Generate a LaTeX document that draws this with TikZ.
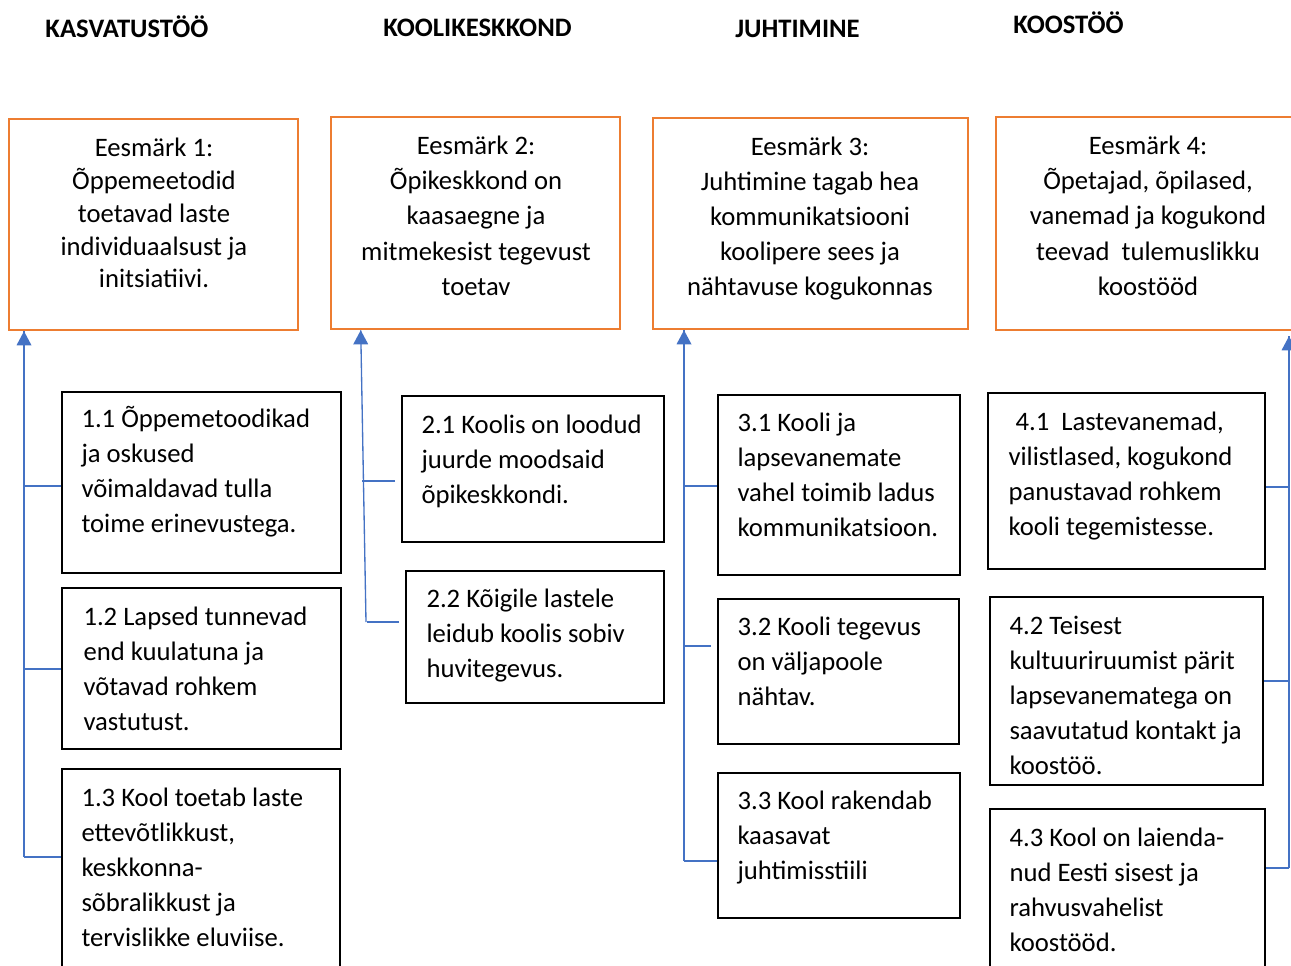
\documentclass[tikz,border=0pt]{standalone}
\usepackage{fontspec}
\setmainfont{Carlito}
\usetikzlibrary{calc}
\definecolor{goalorange}{RGB}{237,125,49}
\definecolor{linkblue}{RGB}{68,114,196}

\tikzset{every picture/.style={line width=0.75pt}}
\tikzset{
  boxsize/.style 2 args={minimum width=#1*0.75pt, minimum height=#2*0.75pt},
  goal/.style={draw=goalorange, line width=1.9pt, inner sep=0pt},
  item/.style={draw=black, line width=1.5pt, inner sep=0pt},
  head/.style={inner sep=0pt, font=\fontsize{20}{24}\selectfont\bfseries},
  goaltext/.style={anchor=north, align=center, inner sep=0pt, font=\fontsize{20}{26.25}\selectfont},
  itemtext/.style={anchor=north west, align=left, inner sep=0pt, font=\fontsize{20}{26.25}\selectfont},
  link/.style={draw=linkblue, line width=1pt},
  gap/.style={shorten <=4.5pt}
}

\begin{document}
\begin{tikzpicture}[x=0.75pt,y=0.75pt,yscale=-1,xscale=1]
    \useasboundingbox (0,0) rectangle (1291,966);
    \clip (0,0) rectangle (1291,966);

    % Text Node
    \draw (127,27) node [head] (h1) {KASVATUSTÖÖ};
    % Text Node
    \draw (477.5,27.5) node [head] (h2) {KOOLIKESKKOND};
    % Text Node
    \draw (797.5,28.5) node [head] (h3) {JUHTIMINE};
    % Text Node
    \draw (1068.5,23) node [head] (h4) {KOOSTÖÖ};

    %Shape: Rectangle
    \draw (153.5,224.5) node [goal, boxsize={289}{211}] (g1) {};
    %Shape: Rectangle
    \draw (475.5,223) node [goal, boxsize={289}{212}] (g2) {};
    %Shape: Rectangle
    \draw (810.5,223.5) node [goal, boxsize={315}{211}] (g3) {};
    %Shape: Rectangle
    \draw (1148,223.5) node [goal, boxsize={304}{213}] (g4) {};

    % Text Node
    \draw (154,133.4) node [goaltext, font=\fontsize{20}{24.56}\selectfont] (g1t) {\strut Eesmärk 1:\\Õppemeetodid\\toetavad laste\\individuaalsust ja\\initsiatiivi.};
    % Text Node
    \draw (476,130) node [goaltext] (g2t) {\strut Eesmärk 2:\\Õpikeskkond on\\kaasaegne ja\\mitmekesist tegevust\\toetav};
    % Text Node
    \draw (810,131) node [goaltext] (g3t) {\strut Eesmärk 3:\\Juhtimine tagab hea\\kommunikatsiooni\\koolipere sees ja\\nähtavuse kogukonnas};
    % Text Node
    \draw (1148,130) node [goaltext] (g4t) {\strut Eesmärk 4:\\Õpetajad, õpilased,\\vanemad ja kogukond\\teevad~ tulemuslikku\\koostööd};

    %Shape: Rectangle
    \draw (201.5,482.5) node [item, boxsize={279}{181}] (b11) {};
    \draw (201.5,668.5) node [item, boxsize={279}{161}] (b12) {};
    \draw (201,879.5) node [item, boxsize={278}{221}] (b13) {};
    %Shape: Rectangle
    \draw (533,469) node [item, boxsize={262}{146}] (b21) {};
    \draw (535,637) node [item, boxsize={258}{132}] (b22) {};
    %Shape: Rectangle
    \draw (839,485) node [item, boxsize={242}{180}] (b31) {};
    \draw (838.5,671.5) node [item, boxsize={241}{145}] (b32) {};
    \draw (839,845.5) node [item, boxsize={242}{145}] (b33) {};
    %Shape: Rectangle
    \draw (1126.5,481) node [item, boxsize={277}{176}] (b41) {};
    \draw (1126.5,691) node [item, boxsize={273}{188}] (b42) {};
    \draw (1127.5,899.5) node [item, boxsize={275}{181}] (b43) {};

    % Text Node
    \draw (81,402) node [itemtext] (t11) {\strut 1.1 Õppemetoodikad\\ja oskused\\võimaldavad tulla\\toime erinevustega.};
    \draw (83,600) node [itemtext] (t12) {\strut 1.2 Lapsed tunnevad\\end kuulatuna ja\\võtavad rohkem\\vastutust.};
    \draw (81,781) node [itemtext] (t13) {\strut 1.3 Kool toetab laste\\ettevõtlikkust,\\keskkonna-\\sõbralikkust ja\\tervislikke eluviise.};
    % Text Node
    \draw (421,408) node [itemtext] (t21) {\strut 2.1 Koolis on loodud\\juurde moodsaid\\õpikeskkondi.};
    \draw (426,582) node [itemtext] (t22) {\strut 2.2 Kõigile lastele\\leidub koolis sobiv\\huvitegevus.};
    % Text Node
    \draw (737,406) node [itemtext] (t31) {\strut 3.1 Kooli ja\\lapsevanemate\\vahel toimib ladus\\kommunikatsioon.};
    \draw (737,610) node [itemtext] (t32) {\strut 3.2 Kooli tegevus\\on väljapoole\\nähtav.};
    \draw (737,784) node [itemtext] (t33) {\strut 3.3 Kool rakendab\\kaasavat\\juhtimisstiili};
    % Text Node
    \draw (1008,405) node [itemtext] (t41) {\strut\hspace*{5.25pt}4.1~ Lastevanemad,\\vilistlased, kogukond\\panustavad rohkem\\kooli tegemistesse.};
    \draw (1009,609) node [itemtext] (t42) {\strut 4.2 Teisest\\kultuuriruumist pärit\\lapsevanematega on\\saavutatud kontakt ja\\koostöö.};
    \draw (1009,821) node [itemtext] (t43) {\strut 4.3 Kool on laienda-\\nud Eesti sisest ja\\rahvusvahelist\\koostööd.};

    %Straight Lines
    \coordinate (c1) at (24,857);
    \draw [link] (c1) -- (c1 |- g1.south) ;
    \draw [shift={(c1 |- g1.south)}, rotate = 90] [fill=linkblue][line width=0.08] [draw opacity=0] (14,-7.5) -- (0,0) -- (14,7.5) -- cycle ;
    \draw [link] ($(b11.north west)+(0,95)$) -- (c1 |- {$(b11.north west)+(0,95)$}) ;
    \draw [link] ($(b12.north west)+(0,82)$) -- (c1 |- {$(b12.north west)+(0,82)$}) ;
    \draw [link] (c1 -| b13.west) -- (c1) ;

    %Straight Lines
    \coordinate (c2) at (366,622);
    \draw [link] (c2) -- ($(g2.south west)+(31,0)$) ;
    \draw [shift={($(g2.south west)+(31,0)$)}, rotate = 90] [fill=linkblue][line width=0.08] [draw opacity=0] (14,-7.5) -- (0,0) -- (14,7.5) -- cycle ;
    \draw [link, gap] ($(b21.north west)+(0,86)$) -- ($(b21.north west)+(-39,86)$) ;
    \draw [link, gap] (c2 -| b22.west) -- ($(c2)+(1,0)$) ;

    %Straight Lines
    \coordinate (c3) at (684,861);
    \draw [link] (c3) -- (c3 |- g3.south) ;
    \draw [shift={(c3 |- g3.south)}, rotate = 90] [fill=linkblue][line width=0.08] [draw opacity=0] (14,-7.5) -- (0,0) -- (14,7.5) -- cycle ;
    \draw [link] ($(b31.north west)+(0,92)$) -- (c3 |- {$(b31.north west)+(0,92)$}) ;
    \draw [link, gap] ($(b32.north west)+(0,48)$) -- (c3 |- {$(b32.north west)+(0,48)$}) ;
    \draw [link] (c3 -| b33.west) -- (c3) ;

    %Straight Lines
    \coordinate (c4) at (1289,868);
    \draw [link] (c4) -- ($(c4 |- g4.south)+(0,5)$) ;
    \draw [shift={($(c4 |- g4.south)+(0,5)$)}, rotate = 90] [fill=linkblue][line width=0.08] [draw opacity=0] (14,-7.5) -- (0,0) -- (14,7.5) -- cycle ;
    \draw [link] ($(b41.north east)+(0,95)$) -- (c4 |- {$(b41.north east)+(0,95)$}) ;
    \draw [link] ($(b42.north east)+(0,85)$) -- (c4 |- {$(b42.north east)+(0,85)$}) ;
    \draw [link] (c4 -| b43.east) -- (c4) ;
\end{tikzpicture}
\end{document}
